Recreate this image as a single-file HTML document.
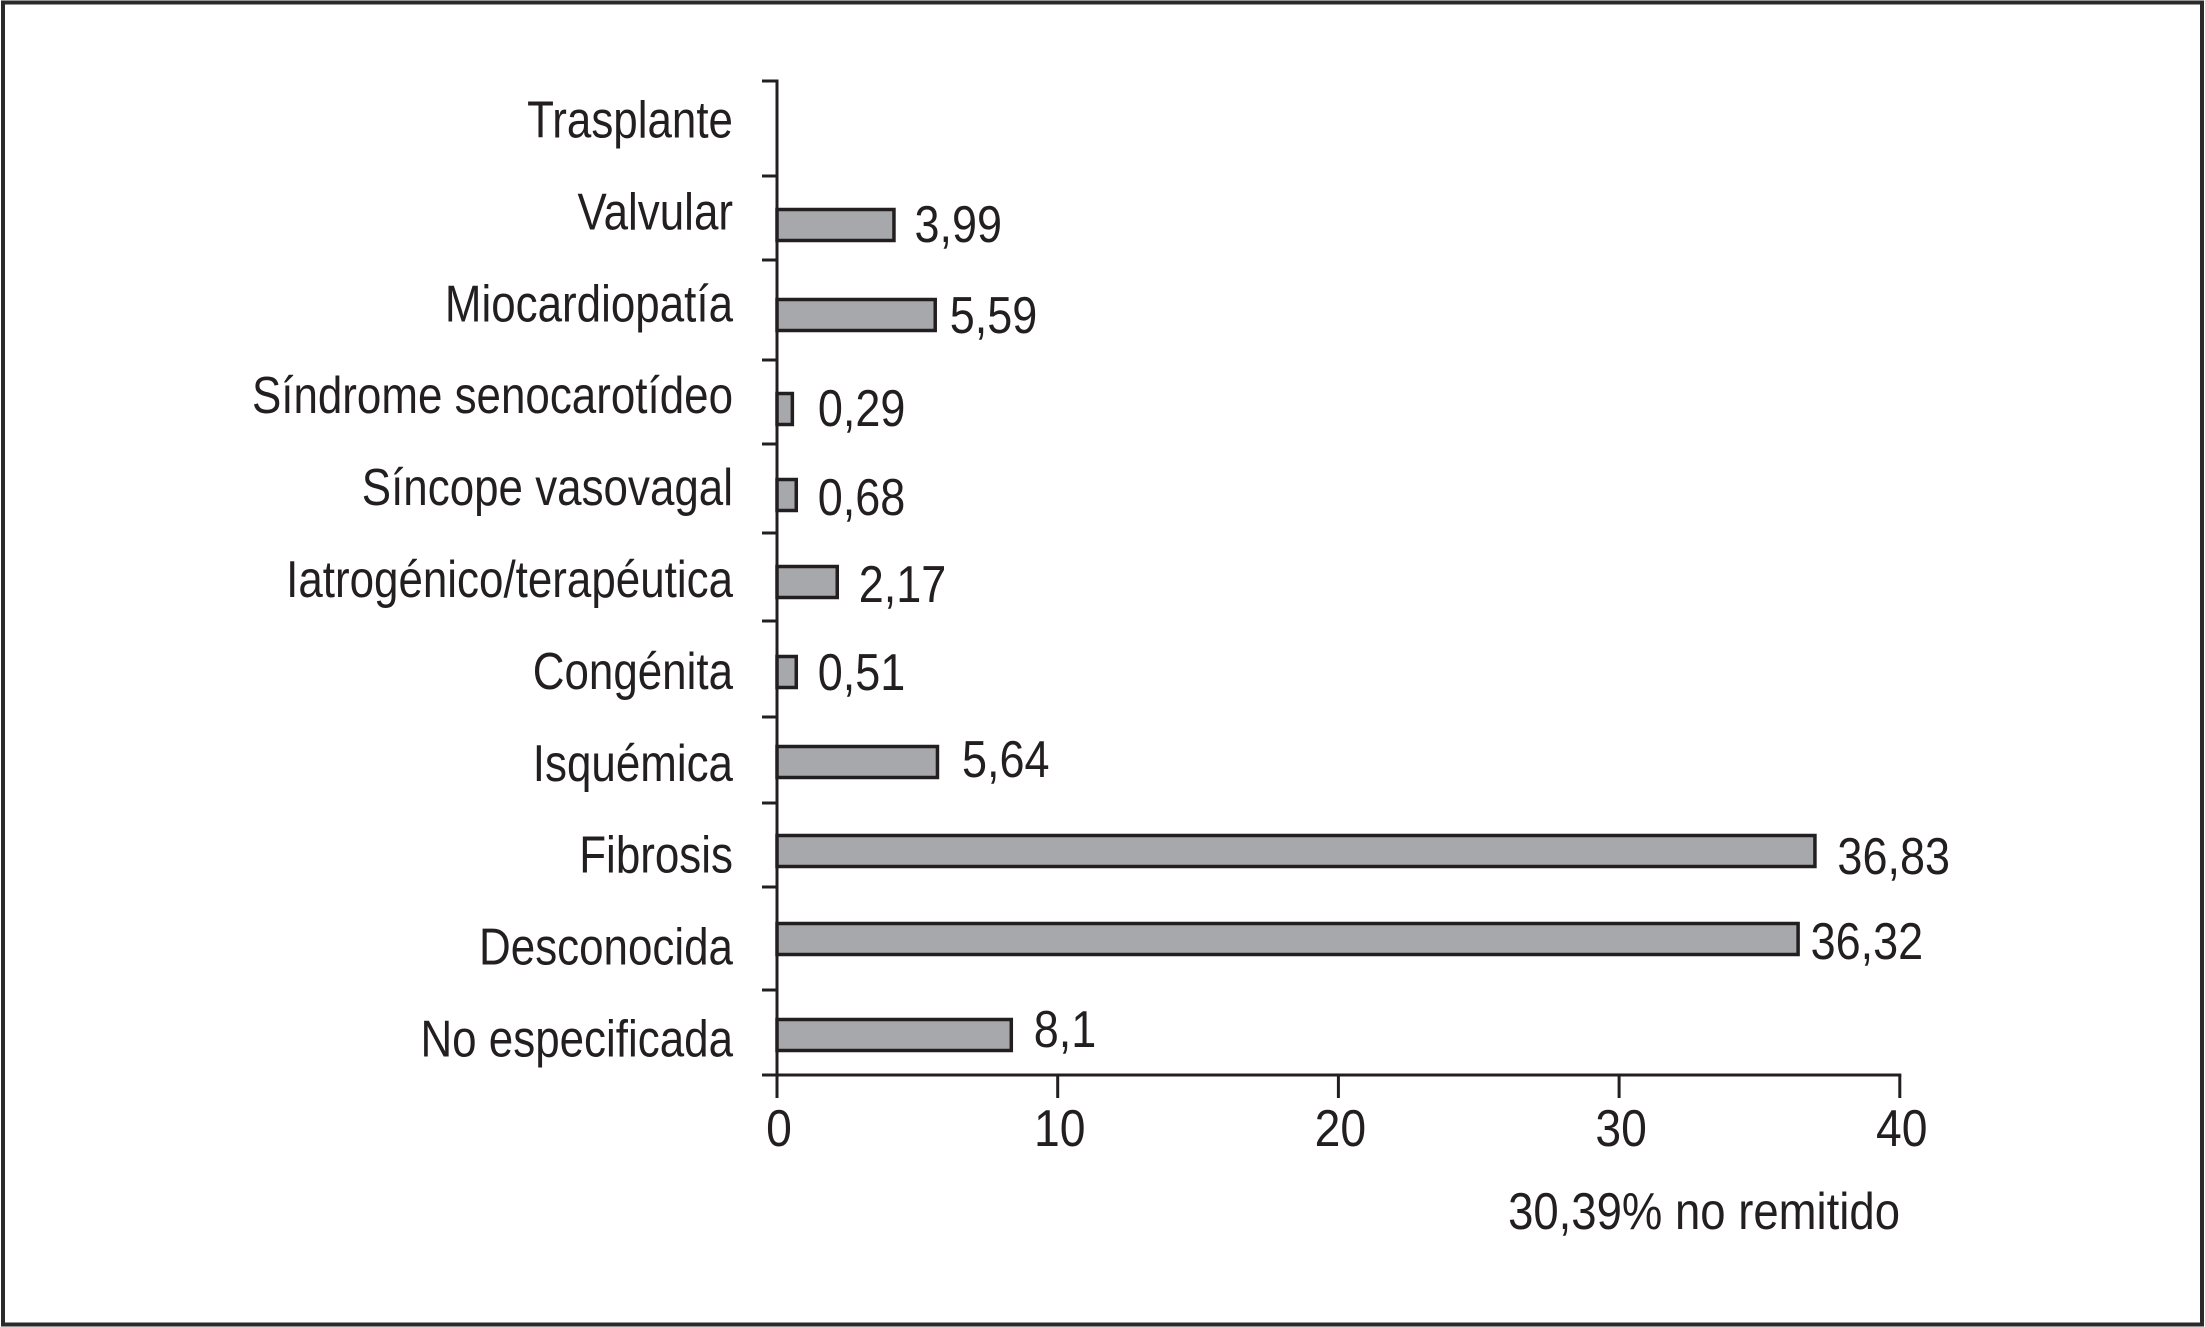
<!DOCTYPE html>
<html lang="es">
<head>
<meta charset="utf-8">
<title>Gráfico de barras</title>
<style>
html,body{margin:0;padding:0;background:#fff;width:2205px;height:1327px;overflow:hidden}
svg{display:block}
text{font-family:"Liberation Sans",sans-serif;font-size:52px;fill:#231f20}
</style>
</head>
<body>
<svg id="chart" xmlns="http://www.w3.org/2000/svg" width="2205" height="1327" viewBox="0 0 2205 1327">
<rect x="3" y="2.5" width="2199" height="1322" fill="#fff" stroke="#2a2a2a" stroke-width="4"/>
</svg>
<script>
const categories = ['Trasplante','Valvular','Miocardiopatía','Síndrome senocarotídeo','Síncope vasovagal','Iatrogénico/terapéutica','Congénita','Isquémica','Fibrosis','Desconocida','No especificada'];
const barLengths = [0,4.22,5.69,0.6,0.74,2.2,0.74,5.77,37.03,36.43,8.4];
const printedValues = ['', '3,99','5,59','0,29','0,68','2,17','0,51','5,64','36,83','36,32','8,1'];
const xTicks = [0,10,20,30,40];
const footnote = '30,39% no remitido';

/* layout tweaks only */
const rowNudge = [0,0,0,4,0,-3,-3,-3,-4,-6,0];
const tickNudge = [-9,-4,-10,0,-6,-7,-9,-3,-7,-13,0,-5];
const valueGap = [0,19,13,24,20,20,20,23,21,11,21];
const valueDrop = [0,17,18,17,20,20,18,15,23,20,12];

const svg = document.getElementById('chart');
const NS = 'http://www.w3.org/2000/svg';
const INK = '#231f20';
const x = v => 777 + 28.07 * v;
const rowCenter = i => 135 + 90 * i + rowNudge[i];
const rowBoundary = i => 90 + 90 * i + tickNudge[i];
const labelBaseline = i => 137.5 + 91.9 * i;
const AXIS_Y = rowBoundary(categories.length);

function shape(tag, attrs){
  const el = document.createElementNS(NS, tag);
  for (const k in attrs) el.setAttribute(k, attrs[k]);
  svg.appendChild(el);
  return el;
}
function label(str, px, py, anchor, squeeze){
  const el = shape('text', {transform:`translate(${px},${py}) scale(${squeeze},1)`, 'text-anchor':anchor});
  el.textContent = str;
  return el;
}

categories.forEach((c, i) => {
  const v = barLengths[i];
  if (v > 0) {
    const cy = rowCenter(i);
    const bar = shape('rect', {x:x(0), y:cy-15.5, width:x(v)-x(0)-1.5, height:31, fill:'#a7a8ab', stroke:INK, 'stroke-width':3.5});
    
    
    const val = label(printedValues[i], x(v)+valueGap[i], cy+valueDrop[i], 'start', 0.865);
    
    
  }
  const cat = label(c, 733, labelBaseline(i), 'end', 0.845);
  
  
});

for (let i = 0; i <= categories.length; i++) {
  const y = rowBoundary(i);
  const t = shape('line', {x1:762, x2:778, y1:y, y2:y, stroke:INK, 'stroke-width':3});
  
  
}

const yAxis = shape('line', {x1:x(0), x2:x(0), y1:rowBoundary(0)-1.5, y2:AXIS_Y+23, stroke:INK, 'stroke-width':3});



const xAxis = shape('line', {x1:762, x2:x(xTicks[xTicks.length-1])+1.5, y1:AXIS_Y, y2:AXIS_Y, stroke:INK, 'stroke-width':3});



xTicks.forEach(t => {
  const tick = shape('line', {x1:x(t), x2:x(t), y1:AXIS_Y, y2:AXIS_Y+23, stroke:INK, 'stroke-width':3});
  
  
  const tl = label(String(t), x(t)+2, 1146, 'middle', 0.89);
  
  
});

const note = label(footnote, 1900, 1229, 'end', 0.875);


</script>
</body>
</html>
